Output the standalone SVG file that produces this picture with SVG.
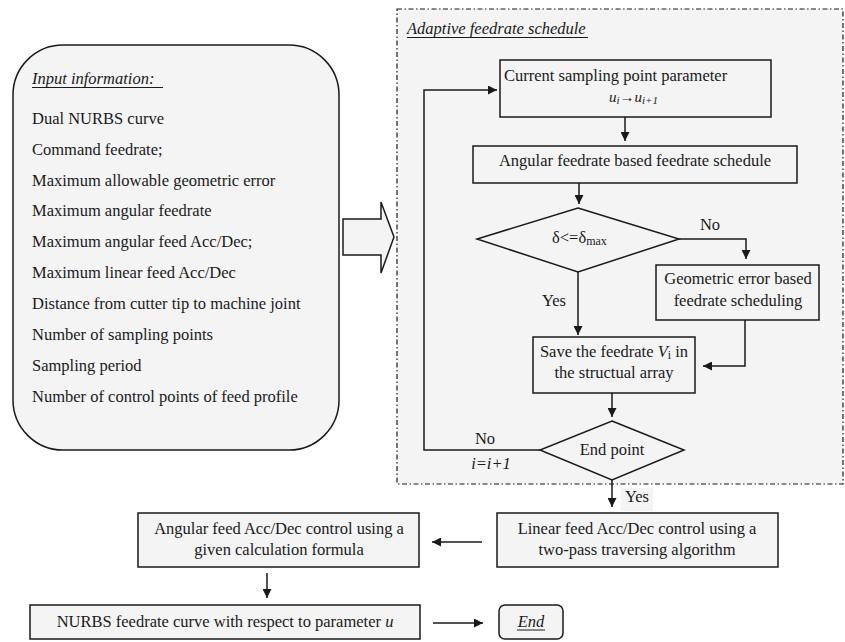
<svg xmlns="http://www.w3.org/2000/svg" width="845" height="642" viewBox="0 0 845 642">
<style>
text{font-family:"Liberation Serif","Times New Roman",Times,"DejaVu Serif",serif;font-size:16.5px;fill:#1a1a1a}
.c{text-anchor:middle}
.it{font-style:italic}
.box{fill:#f4f4f4;stroke:#1a1a1a;stroke-width:1.5}
.ln{fill:none;stroke:#1a1a1a;stroke-width:1.5}
.ul{stroke:#1a1a1a;stroke-width:1}
</style>
<defs>
<marker id="ah" viewBox="0 0 10 10" refX="10" refY="5" markerWidth="10" markerHeight="9" markerUnits="userSpaceOnUse" orient="auto">
<path d="M0,0 L10,5 L0,10 z" fill="#1a1a1a"/>
</marker>
</defs>
<rect width="845" height="642" fill="#ffffff"/>

<g id="input" font-family="Liberation Serif, serif">
<rect class="box" x="13" y="45" width="326" height="405" rx="50" ry="50"/>
<text class="it" x="32" y="84">Input information:</text>
<line class="ul" x1="32" y1="87.5" x2="163" y2="87.5"/>
<text x="32" y="124">Dual NURBS curve</text>
<text x="32" y="155">Command feedrate;</text>
<text x="32" y="186">Maximum allowable geometric error</text>
<text x="32" y="216">Maximum angular feedrate</text>
<text x="32" y="247">Maximum angular feed Acc/Dec;</text>
<text x="32" y="278">Maximum linear feed Acc/Dec</text>
<text x="32" y="309">Distance from cutter tip to machine joint</text>
<text x="32" y="340">Number of sampling points</text>
<text x="32" y="371">Sampling period</text>
<text x="32" y="402">Number of control points of feed profile</text>
</g>

<g id="bigarrow">
<path d="M343,219 L381,219 L381,202 L394,237 L381,273 L381,255 L343,255 Z" fill="#f4f4f4" stroke="#1a1a1a" stroke-width="1.5"/>
</g>

<g id="panel">
<rect x="397" y="9" width="446" height="475" fill="#f4f4f4" stroke="#1a1a1a" stroke-width="1.2" stroke-dasharray="5,2.5,1.5,2.5"/>
<text class="it" x="407" y="34">Adaptive feedrate schedule</text>
<line class="ul" x1="407" y1="37.5" x2="588" y2="37.5"/>
</g>

<g id="current">
<rect class="box" x="500" y="60" width="271" height="57"/>
<text x="504" y="81">Current sampling point parameter</text>
<text class="it" x="609" y="102" style="font-size:15px">u<tspan dy="2" font-size="11">i</tspan><tspan dy="-2" style="font-style:normal">→</tspan>u<tspan dy="2" font-size="11">i+1</tspan></text>
</g>

<g id="angular-schedule">
<rect class="box" x="473" y="146" width="324" height="37"/>
<text class="c" x="635" y="166">Angular feedrate based feedrate schedule</text>
</g>

<g id="decision">
<path class="box" d="M578,208 L679,239 L578,272 L477,239 Z"/>
<text x="552" y="243">δ&lt;=δ<tspan dy="2" font-size="12">max</tspan></text>
</g>

<g id="geometric">
<rect class="box" x="656" y="265" width="163" height="55"/>
<text class="c" x="738" y="284">Geometric error based</text>
<text class="c" x="738" y="306">feedrate scheduling</text>
</g>

<g id="save">
<rect class="box" x="533" y="337" width="162" height="56"/>
<text class="c" x="614" y="357">Save the feedrate <tspan class="it">V</tspan><tspan font-size="12" dy="2">i</tspan><tspan dy="-2"> in</tspan></text>
<text class="c" x="614" y="378">the structual array</text>
</g>

<g id="endpoint">
<path class="box" d="M612,421 L684,450 L612,480 L540,450 Z"/>
<text class="c" x="612" y="455">End point</text>
</g>

<g id="linear">
<rect class="box" x="497" y="513" width="281" height="54"/>
<text class="c" x="637" y="534">Linear feed Acc/Dec control using a</text>
<text class="c" x="637" y="555">two-pass traversing algorithm</text>
</g>

<g id="angular-control">
<rect class="box" x="138" y="513" width="281" height="54"/>
<text class="c" x="279" y="534">Angular feed Acc/Dec control using a</text>
<text class="c" x="279" y="555">given calculation formula</text>
</g>

<g id="nurbs">
<rect class="box" x="30" y="605" width="390" height="34"/>
<text class="c" x="225" y="627">NURBS feedrate curve with respect to parameter <tspan class="it">u</tspan></text>
</g>

<g id="end">
<rect class="box" x="499" y="605" width="64" height="34" rx="6" ry="6"/>
<text class="c it" x="531" y="627">End</text>
<line class="ul" x1="517" y1="630" x2="545" y2="630"/>
</g>

<g id="connectors">
<path class="ln" d="M625,117 L625,141" marker-end="url(#ah)"/>
<path class="ln" d="M579,183 L579,204" marker-end="url(#ah)"/>
<path class="ln" d="M679,239 L746,239 L746,259" marker-end="url(#ah)"/>
<path class="ln" d="M578,272 L578,335" marker-end="url(#ah)"/>
<path class="ln" d="M745,320 L745,366 L703,366" marker-end="url(#ah)"/>
<path class="ln" d="M612,393 L612,417" marker-end="url(#ah)"/>
<path class="ln" d="M540,450 L424,450 L424,90 L497,90" marker-end="url(#ah)"/>
<path class="ln" d="M612,480 L612,507" marker-end="url(#ah)"/>
<path class="ln" d="M482,542 L432,542" marker-end="url(#ah)"/>
<path class="ln" d="M267,573 L267,598" marker-end="url(#ah)"/>
<path class="ln" d="M433,623 L483,623" marker-end="url(#ah)"/>
<text class="c" x="710" y="230">No</text>
<text class="c" x="554" y="306">Yes</text>
<text class="c" x="485" y="444">No</text>
<text class="c it" x="491" y="469">i=i+1</text>
<rect x="621" y="488" width="32" height="23" fill="#f4f4f4"/>
<text x="625" y="502">Yes</text>
</g>
</svg>
